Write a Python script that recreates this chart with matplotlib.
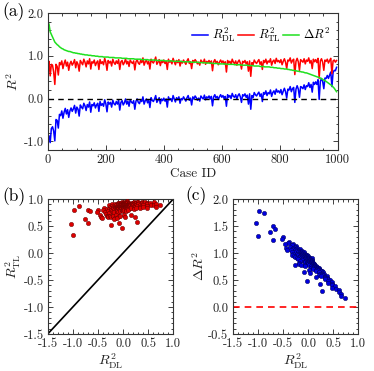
import matplotlib
matplotlib.use("Agg")
import matplotlib.pyplot as plt
import numpy as np
from matplotlib.ticker import MultipleLocator, FormatStrFormatter

plt.rcParams['font.family'] = 'serif'
plt.rcParams['font.serif'] = ['cmr10', 'DejaVu Serif']
plt.rcParams['mathtext.fontset'] = 'cm'
plt.rcParams['axes.unicode_minus'] = False

# case IDs (every 4th case, sorted by delta R^2)
case_id = np.arange(0, 1000, 4)

# R^2 of the transfer-learning model
r2_tl = [0.80, 0.87, 0.53, 0.80, 0.78, 0.62, 0.33, 0.80, 0.75, 0.55,
         0.84, 0.79, 0.88, 0.70, 0.82, 0.90, 0.76, 0.85, 0.66, 0.81,
         0.87, 0.78, 0.83, 0.91, 0.72, 0.86, 0.80, 0.64, 0.89, 0.84,
         0.79, 0.92, 0.85, 0.74, 0.88, 0.81, 0.93, 0.69, 0.86, 0.83,
         0.90, 0.77, 0.84, 0.88, 0.68, 0.91, 0.82, 0.86, 0.79, 0.94,
         0.85, 0.66, 0.89, 0.83, 0.87, 0.76, 0.92, 0.84, 0.80, 0.88,
         0.82, 0.91, 0.68, 0.86, 0.89, 0.79, 0.84, 0.93, 0.81, 0.87,
         0.75, 0.90, 0.85, 0.82, 0.88, 0.67, 0.86, 0.91, 0.83, 0.80,
         0.89, 0.84, 0.95, 0.78, 0.86, 0.90, 0.81, 0.87, 0.69, 0.92,
         0.86, 0.83, 0.89, 0.97, 0.80, 0.85, 0.91, 0.77, 0.88, 0.84,
         0.90, 0.82, 0.87, 0.68, 0.92, 0.85, 0.88, 0.81, 0.94, 0.86,
         0.79, 0.89, 0.84, 0.91, 0.76, 0.87, 0.83, 0.90, 0.85, 0.80,
         0.88, 0.93, 0.82, 0.86, 0.70, 0.89, 0.84, 0.91, 0.87, 0.81,
         0.85, 0.78, 0.90, 0.86, 0.83, 0.92, 0.80, 0.87, 0.84, 0.89,
         0.82, 0.88, 0.65, 0.86, 0.91, 0.83, 0.87, 0.79, 0.85, 0.90,
         0.84, 0.88, 0.81, 0.86, 0.62, 0.89, 0.83, 0.87, 0.80, 0.92,
         0.85, 0.82, 0.88, 0.78, 0.86, 0.90, 0.83, 0.69, 0.87, 0.84,
         0.89, 0.81, 0.86, 0.64, 0.88, 0.52, 0.84, 0.79, 0.90, 0.85,
         0.82, 0.87, 0.91, 0.80, 0.86, 0.68, 0.89, 0.84, 0.92, 0.81,
         0.88, 0.85, 0.93, 0.78, 0.87, 0.90, 0.82, 0.94, 0.86, 0.89,
         0.84, 0.91, 0.79, 0.87, 0.93, 0.85, 0.70, 0.90, 0.88, 0.95,
         0.83, 0.89, 0.92, 0.56, 0.87, 0.94, 0.86, 0.66, 0.91, 0.88,
         0.85, 0.93, 0.81, 0.90, 0.87, 0.95, 0.83, 0.89, 0.70, 0.92,
         0.86, 0.91, 0.84, 0.94, 0.47, 0.88, 0.93, 0.85, 0.66, 0.90,
         0.87, 0.92, 0.83, 0.89, 0.94, 0.58, 0.88, 0.90, 0.85, 0.89]

# delta R^2 = R^2_TL - R^2_DL (sorted, green curve)
delta_r2 = [1.78, 1.74, 1.56, 1.50, 1.44, 1.38, 1.32, 1.29, 1.26, 1.24,
            1.21, 1.19, 1.17, 1.16, 1.14, 1.13, 1.12, 1.11, 1.10, 1.10,
            1.09, 1.08, 1.07, 1.07, 1.06, 1.06, 1.05, 1.05, 1.04, 1.04,
            1.03, 1.03, 1.02, 1.02, 1.02, 1.01, 1.01, 1.01, 1.00, 1.00,
            1.00, 0.99, 0.99, 0.99, 0.98, 0.98, 0.98, 0.98, 0.97, 0.97,
            0.97, 0.97, 0.97, 0.96, 0.96, 0.96, 0.96, 0.96, 0.95, 0.95,
            0.95, 0.95, 0.95, 0.95, 0.94, 0.94, 0.94, 0.94, 0.94, 0.93,
            0.93, 0.93, 0.93, 0.93, 0.93, 0.92, 0.92, 0.92, 0.92, 0.92,
            0.92, 0.91, 0.91, 0.91, 0.91, 0.91, 0.91, 0.90, 0.90, 0.90,
            0.90, 0.90, 0.90, 0.90, 0.89, 0.89, 0.89, 0.89, 0.89, 0.89,
            0.89, 0.88, 0.88, 0.88, 0.88, 0.88, 0.88, 0.88, 0.87, 0.87,
            0.87, 0.87, 0.87, 0.87, 0.87, 0.87, 0.86, 0.86, 0.86, 0.86,
            0.86, 0.86, 0.86, 0.85, 0.85, 0.85, 0.85, 0.85, 0.85, 0.85,
            0.84, 0.84, 0.84, 0.84, 0.84, 0.84, 0.83, 0.83, 0.83, 0.83,
            0.83, 0.83, 0.82, 0.82, 0.82, 0.82, 0.82, 0.81, 0.81, 0.81,
            0.81, 0.81, 0.81, 0.81, 0.80, 0.80, 0.80, 0.80, 0.80, 0.80,
            0.80, 0.79, 0.79, 0.79, 0.79, 0.79, 0.79, 0.78, 0.78, 0.78,
            0.78, 0.78, 0.78, 0.77, 0.77, 0.77, 0.77, 0.77, 0.76, 0.76,
            0.76, 0.76, 0.76, 0.75, 0.75, 0.75, 0.75, 0.74, 0.74, 0.74,
            0.74, 0.74, 0.73, 0.73, 0.73, 0.72, 0.72, 0.72, 0.71, 0.71,
            0.71, 0.70, 0.70, 0.70, 0.69, 0.69, 0.69, 0.68, 0.68, 0.67,
            0.67, 0.66, 0.66, 0.65, 0.65, 0.64, 0.64, 0.63, 0.63, 0.62,
            0.62, 0.61, 0.60, 0.60, 0.59, 0.58, 0.57, 0.56, 0.55, 0.54,
            0.53, 0.52, 0.51, 0.50, 0.49, 0.48, 0.46, 0.45, 0.43, 0.42,
            0.40, 0.38, 0.36, 0.34, 0.32, 0.30, 0.27, 0.24, 0.20, 0.16]

r2_tl = np.array(r2_tl)
delta_r2 = np.array(delta_r2)
r2_dl = r2_tl - delta_r2

tick_c = '#222222'
fig = plt.figure(figsize=(3.74, 3.71), dpi=100)


def style(ax, xmaj, xmin, ymaj, ymin):
    ax.xaxis.set_major_locator(MultipleLocator(xmaj))
    ax.xaxis.set_minor_locator(MultipleLocator(xmin))
    ax.yaxis.set_major_locator(MultipleLocator(ymaj))
    ax.yaxis.set_minor_locator(MultipleLocator(ymin))
    ax.tick_params(which='both', direction='in', top=True, right=True,
                   labelsize=9, colors=tick_c, width=0.6)
    ax.tick_params(which='major', length=3.5, pad=3)
    ax.tick_params(which='minor', length=1.8)
    for s in ax.spines.values():
        s.set_linewidth(0.8)
        s.set_color('#333333')


# (a)
ax1 = fig.add_axes([0.128, 0.596, 0.775, 0.369])
ax1.plot(case_id, r2_dl, color='#0000ff', lw=1.1, label=r'$R^2_{\rm DL}$')
ax1.plot(case_id, r2_tl, color='#ff0000', lw=1.1, label=r'$R^2_{\rm TL}$')
ax1.plot(case_id, delta_r2, color='#1fe01f', lw=1.1, label=r'$\Delta R^2$')
ax1.axhline(0, color='black', ls='--', lw=1.0, dashes=(4, 3))
ax1.set_xlim(0, 1000)
ax1.set_ylim(-1.2, 2.0)
style(ax1, 200, 50, 1.0, 0.2)
ax1.xaxis.set_major_formatter(FormatStrFormatter('%d'))
ax1.yaxis.set_major_formatter(FormatStrFormatter('%.1f'))
ax1.set_xlabel('Case ID', fontsize=9.5, color=tick_c, labelpad=1)
ax1.set_ylabel(r'$R^2$', fontsize=10, color=tick_c, labelpad=2)
ax1.legend(loc='upper right', ncol=3, frameon=False, fontsize=9,
           handlelength=1.3, handletextpad=0.3, columnspacing=0.2,
           borderaxespad=0.2, bbox_to_anchor=(1.0, 0.96))

# (b)
ax2 = fig.add_axes([0.1275, 0.0997, 0.336, 0.364])
ax2.plot([-1.5, 1.0], [-1.5, 1.0], color='black', lw=1.2)
ax2.scatter(r2_dl, r2_tl, s=10, color='#dd0000', edgecolors='#550000',
            linewidths=0.3, zorder=3)
ax2.set_xlim(-1.5, 1.0)
ax2.set_ylim(-1.5, 1.0)
style(ax2, 0.5, 0.1, 0.5, 0.1)
ax2.xaxis.set_major_formatter(FormatStrFormatter('%.1f'))
ax2.yaxis.set_major_formatter(FormatStrFormatter('%.1f'))
ax2.set_xlabel(r'$R^2_{\rm DL}$', fontsize=10, color=tick_c, labelpad=1)
ax2.set_ylabel(r'$R^2_{\rm TL}$', fontsize=10, color=tick_c, labelpad=0)

# (c)
ax3 = fig.add_axes([0.622, 0.0997, 0.336, 0.364])
ax3.axhline(0, color='#ff0000', ls='--', lw=1.2, dashes=(4, 3))
ax3.scatter(r2_dl, delta_r2, s=10, color='#0000dd', edgecolors='#000044',
            linewidths=0.3, zorder=3)
ax3.set_xlim(-1.5, 1.0)
ax3.set_ylim(-0.5, 2.0)
style(ax3, 0.5, 0.1, 0.5, 0.1)
ax3.xaxis.set_major_formatter(FormatStrFormatter('%.1f'))
ax3.yaxis.set_major_formatter(FormatStrFormatter('%.1f'))
ax3.set_xlabel(r'$R^2_{\rm DL}$', fontsize=10, color=tick_c, labelpad=1)
ax3.set_ylabel(r'$\Delta R^2$', fontsize=10, color=tick_c, labelpad=1)

fig.text(2 / 374, 1 - 12 / 371, '(a)', fontsize=12.5, va='center', ha='left')
fig.text(2 / 374, 1 - 197 / 371, '(b)', fontsize=12.5, va='center', ha='left')
fig.text(185 / 374, 1 - 196 / 371, '(c)', fontsize=12.5, va='center', ha='left')

fig.savefig('out.png', dpi=100)
